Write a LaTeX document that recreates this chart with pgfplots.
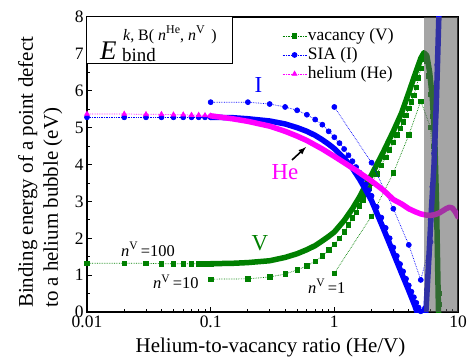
\documentclass[border=0pt]{standalone}
\usepackage{fontspec}
\setmainfont{Liberation Serif}
\usepackage{pgfplots}
\pgfplotsset{compat=1.18}
\definecolor{vgreen}{RGB}{0,128,0}
\definecolor{iblue}{RGB}{0,0,255}
\definecolor{hmag}{RGB}{255,0,255}
\definecolor{grayband}{RGB}{91,91,91}
\begin{document}
\begin{tikzpicture}
\useasboundingbox (-87bp,-49bp) rectangle (383bp,312bp);
\begin{axis}[
 scale only axis, width=371bp, height=295bp,
 clip mode=individual,
 xmode=log, xmin=0.01, xmax=10, ymin=0, ymax=8,
 xtick={0.01,0.1,1,10}, xticklabels={0.01,0.1,1,10},
 minor xtick={0.02,0.03,0.04,0.05,0.06,0.07,0.08,0.09,0.2,0.3,0.4,0.5,0.6,0.7,0.8,0.9,2,3,4,5,6,7,8,9},
 ytick={0,1,2,3,4,5,6,7,8}, minor y tick num=1,
 tick align=inside, xtick pos=bottom, ytick pos=left,
 major tick length=5bp, minor tick length=3bp,
 tick style={black, line width=0.8bp},
 axis line style={line width=1.2bp},
 ticklabel style={font=\fontsize{17.5}{17.5}\selectfont},
 /pgf/number format/assume math mode=true,
 legend style={at={(rel axis cs:0.523,0.972)}, anchor=north west, draw=none, fill=none,
   font=\fontsize{17.5}{17.5}\selectfont, row sep=0bp, inner sep=1bp,
   nodes={inner sep=1bp, text height=13bp, text depth=4bp, font=\fontsize{17.5}{17.5}\selectfont}},
 legend cell align=left,
 legend image code/.code={\draw[mark repeat=2,mark phase=2,#1] plot coordinates {(0bp,0bp) (12bp,0bp) (24bp,0bp)};},
 sparse/.style={densely dotted, line width=0.7bp, mark options={solid}},
 thick band/.style={line width=5.5bp, line cap=round, line join=round},
]
\addlegendimage{vgreen, sparse, mark=square*, mark size=2.2bp}
\addlegendentry{vacancy (V)}
\addlegendimage{iblue, sparse, mark=*, mark size=2.5bp}
\addlegendentry{SIA (I)}
\addlegendimage{hmag, sparse, mark=triangle*, mark size=2.8bp}
\addlegendentry{helium (He)}

% ---------------- vacancy ----------------
\addplot[forget plot, vgreen, sparse, mark=square*, mark size=2.2bp] coordinates {
(0.01,1.32)(0.02,1.32)(0.03,1.32)(0.04,1.31)(0.05,1.31)(0.06,1.31)(0.07,1.31)(0.08,1.31)(0.09,1.31)(0.1,1.31)};
\addplot[forget plot, vgreen, thick band] coordinates {
(0.1,1.31)(0.15,1.32)(0.2,1.34)(0.3,1.39)(0.4,1.48)(0.5,1.58)(0.6,1.69)(0.7,1.8)(0.8,1.93)(0.9,2.05)
(1.0,2.17)(1.2,2.48)(1.4,2.8)(1.6,3.12)(1.8,3.45)(2.0,3.72)(2.5,4.35)(3.0,4.9)(3.5,5.4)(4.0,5.95)
(4.5,6.45)(5.0,6.88)(5.3,7.03)(5.6,6.95)(5.9,6.5)(6.2,5.8)(6.5,4.6)(6.7,3.0)(6.85,1.2)(7.0,-0.5)};
\addplot[forget plot, vgreen, sparse, mark=square*, mark size=2.2bp] coordinates {
(0.1,0.89)(0.2,0.9)(0.3,0.95)(0.4,1.03)(0.5,1.14)(0.6,1.25)(0.7,1.38)(0.8,1.52)(0.9,1.68)(1.0,1.84)
(1.1,2.0)(1.2,2.17)(1.3,2.36)(1.4,2.55)(1.5,2.71)(1.6,2.88)(1.7,3.04)(1.8,3.2)(1.9,3.35)(2.0,3.5)
(2.2,3.75)(2.4,3.98)(2.6,4.2)(2.8,4.4)(3.0,4.6)(3.2,4.8)(3.4,4.98)(3.6,5.16)(3.8,5.34)(4.0,5.52)
(4.2,5.7)(4.4,5.88)(4.6,6.1)(4.8,6.35)(5.0,6.6)(5.2,6.85)(5.4,6.95)(5.6,6.8)(5.8,6.4)(6.0,5.9)
(6.2,5.3)(6.4,4.5)(6.6,3.3)(6.8,1.8)(7.0,0.2)};
\addplot[forget plot, vgreen, sparse, mark=square*, mark size=2.2bp] coordinates {
(1,1.05)(2,2.6)(3,3.77)(4,4.8)(5,5.72)(6,5.0)(7,0.5)};

% ---------------- SIA ----------------
\addplot[forget plot, iblue, sparse, mark=*, mark size=2.5bp] coordinates {
(0.01,5.28)(0.02,5.28)(0.03,5.28)(0.04,5.28)(0.05,5.28)(0.06,5.28)(0.07,5.28)(0.08,5.28)(0.09,5.28)(0.1,5.28)};
\addplot[forget plot, iblue, thick band] coordinates {
(0.1,5.28)(0.15,5.27)(0.2,5.24)(0.3,5.18)(0.4,5.1)(0.5,5.0)(0.6,4.9)(0.7,4.79)(0.8,4.67)(0.9,4.55)
(1.0,4.43)(1.2,4.17)(1.4,3.9)(1.6,3.6)(1.8,3.3)(2.0,3.02)(2.5,2.25)(3.0,1.6)(3.5,1.05)(4.0,0.58)
(4.5,0.15)(5.0,-0.3)(5.3,-0.4)(5.5,0.0)(5.8,1.4)(6.1,2.8)(6.4,4.0)(6.7,5.8)(7.0,8.0)(7.2,9.5)};
\addplot[forget plot, iblue, sparse, mark=*, mark size=2.5bp] coordinates {
(0.1,5.69)(0.2,5.69)(0.3,5.64)(0.4,5.56)(0.5,5.47)(0.6,5.35)(0.7,5.22)(0.8,5.08)(0.9,4.9)(1.0,4.74)
(1.1,4.58)(1.2,4.42)(1.3,4.25)(1.4,4.09)(1.5,3.93)(1.6,3.78)(1.7,3.62)(1.8,3.46)(1.9,3.3)(2.0,3.15)
(2.2,2.85)(2.4,2.56)(2.6,2.28)(2.8,2.0)(3.0,1.75)(3.2,1.52)(3.4,1.3)(3.6,1.1)(3.8,0.9)(4.0,0.72)
(4.2,0.55)(4.4,0.4)(4.6,0.25)(4.8,0.12)(5.0,0.02)(5.2,-0.1)(5.4,0.1)(5.6,0.6)(5.8,1.5)(6.0,2.5)
(6.2,3.4)(6.4,4.3)(6.6,5.4)(6.8,6.7)(7.0,8.2)};
\addplot[forget plot, iblue, sparse, mark=*, mark size=2.5bp] coordinates {
(1,5.56)(2,4.05)(3,2.8)(4,1.82)(5,0.87)(6,1.9)(7,9.0)};

% ---------------- helium ----------------
\addplot[forget plot, hmag, sparse, mark=triangle*, mark size=2.8bp] coordinates {
(0.01,5.37)(0.02,5.37)(0.03,5.36)(0.04,5.36)(0.05,5.35)(0.06,5.35)(0.07,5.34)(0.08,5.34)(0.09,5.33)(0.1,5.32)};
\addplot[forget plot, hmag, thick band] coordinates {
(0.1,5.32)(0.15,5.24)(0.2,5.17)(0.3,5.04)(0.4,4.9)(0.5,4.77)(0.6,4.65)(0.8,4.42)(1.0,4.22)(1.2,4.05)
(1.5,3.84)(2.0,3.55)(2.5,3.3)(3.0,3.05)(3.5,2.93)(4.0,2.8)(4.5,2.72)(5.0,2.66)(5.5,2.63)(6.0,2.62)
(6.5,2.64)(7.0,2.68)(7.5,2.74)(8.0,2.8)(8.5,2.84)(9.0,2.82)(9.5,2.72)(10,2.58)};

% gray region
\fill[grayband, opacity=0.55] (axis cs:5.35,0) rectangle (axis cs:10,8);

% title box
\draw[line width=1bp, fill=white] (rel axis cs:0,1) rectangle (rel axis cs:0.3935,0.8407);
\node[anchor=base west, inner sep=0] at (rel axis cs:0.035,0.8576) {\fontsize{27}{27}\selectfont\textit{E}};
\node[anchor=base west, inner sep=0] at (rel axis cs:0.0943,0.8508) {\fontsize{19}{19}\selectfont bind};
\node[anchor=base west, inner sep=0] at (rel axis cs:0.097,0.922) {\fontsize{16}{16}\selectfont\textit{k}, B( \textit{n}\raisebox{7bp}{\fontsize{12}{12}\selectfont He}, \textit{n}\raisebox{7bp}{\fontsize{12}{12}\selectfont V}\, )};

% annotations
\node[iblue, inner sep=0] at (rel axis cs:0.4623,0.7695) {\fontsize{23}{23}\selectfont I};
\node[hmag, inner sep=0] at (rel axis cs:0.5337,0.4746) {\fontsize{23}{23}\selectfont He};
\node[vgreen, inner sep=0] at (rel axis cs:0.4663,0.2339) {\fontsize{23}{23}\selectfont V};
\draw[-latex, line width=1.6bp] (rel axis cs:0.5526,0.5153) -- (rel axis cs:0.5903,0.5593);
\node[anchor=base west, inner sep=0] at (rel axis cs:0.0916,0.1898) {\fontsize{16.5}{16.5}\selectfont\textit{n}\textsuperscript{V}\,=100};
\node[anchor=base west, inner sep=0] at (rel axis cs:0.1779,0.0780) {\fontsize{16.5}{16.5}\selectfont\textit{n}\textsuperscript{V}\,=10};
\node[anchor=base west, inner sep=0] at (rel axis cs:0.5957,0.0644) {\fontsize{16.5}{16.5}\selectfont\textit{n}\textsuperscript{V}\,=1};
\end{axis}
% axis labels (outside the axis)
\node[rotate=90, anchor=north west, align=left, inner sep=0, font=\fontsize{21}{25}\selectfont] at (-69bp,4bp) {Binding energy of a point defect\\to a helium bubble (eV)};
\node[anchor=base, inner sep=0, font=\fontsize{21}{21}\selectfont] at (183.5bp,-40bp) {Helium-to-vacancy ratio (He/V)};
\end{tikzpicture}
\end{document}
